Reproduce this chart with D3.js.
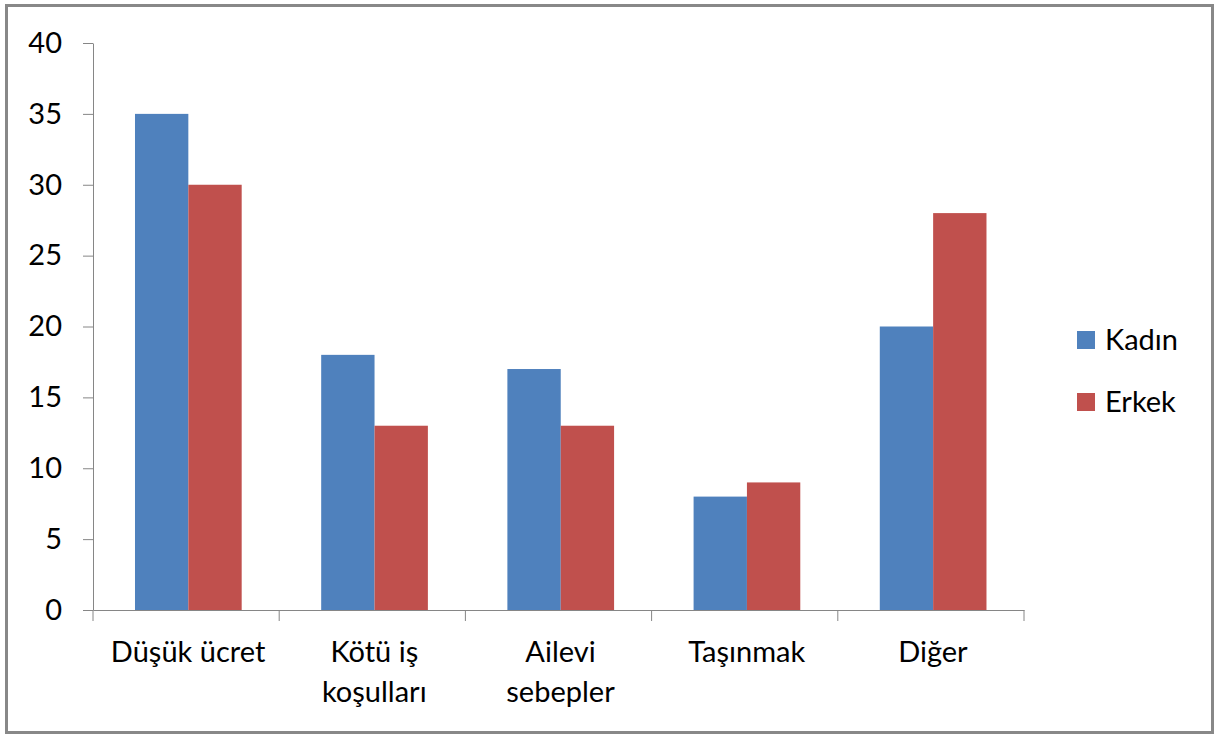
<!DOCTYPE html>
<html><head><meta charset="utf-8">
<script src="https://cdn.jsdelivr.net/npm/d3@7"></script>
<style>body{margin:0;background:#fff}svg{display:block}</style>
</head><body>
<script>
const categories = [["Düşük ücret"], ["Kötü iş","koşulları"], ["Ailevi","sebepler"], ["Taşınmak"], ["Diğer"]];
const seriesNames = ["Kadın", "Erkek"];
const kadin = [35, 18, 17, 8, 20];
const erkek = [30, 13, 13, 9, 28];
const yTicks = [0, 5, 10, 15, 20, 25, 30, 35, 40];
const colors = ["#4F81BD", "#C0504D"];

const W = 1215, H = 735;
const font = "Lato, 'Open Sans', sans-serif";
const fs = 29;
const svg = d3.select("body").append("svg").attr("width", W).attr("height", H);
svg.append("rect").attr("x", 0).attr("y", 0).attr("width", W).attr("height", H).attr("fill", "#fff");
svg.append("rect").attr("x", 6.5).attr("y", 5.5).attr("width", 1206).attr("height", 727).attr("fill", "none")
  .attr("stroke", "#888").attr("stroke-width", 3);

const pLeft = 93, pRight = 1024, pTop = 43, pBottom = 610;
const catKeys = categories.map((c, i) => i);
const x0 = d3.scaleBand().domain(catKeys).range([pLeft, pRight]).padding(0);
const bw = x0.bandwidth();
const x1 = d3.scaleBand().domain(seriesNames).range([bw * 0.2255, bw * 0.7985]).padding(0);
const y = d3.scaleLinear().domain([0, 40]).range([pBottom, pTop]);

const values = [kadin, erkek];
const g = svg.append("g");
catKeys.forEach(i => {
  seriesNames.forEach((s, j) => {
    g.append("rect")
      .attr("x", x0(i) + x1(s))
      .attr("y", y(values[j][i]))
      .attr("width", x1.bandwidth())
      .attr("height", y(0) - y(values[j][i]))
      .attr("fill", colors[j]);
  });
});

// y axis
const yAxis = svg.append("g").attr("transform", `translate(${pLeft},0)`)
  .call(d3.axisLeft(y).tickValues(yTicks).tickSize(10).tickSizeOuter(0).tickPadding(21));
yAxis.selectAll("path,line").attr("stroke", "#868686");
yAxis.selectAll("text").attr("font-family", font).attr("font-size", fs).attr("fill", "#000");

// x axis
const xAxis = svg.append("g").attr("transform", `translate(0,${pBottom})`)
  .call(d3.axisBottom(x0).tickSize(0).tickSizeOuter(0).tickFormat(""));
xAxis.selectAll("path").attr("stroke", "#868686");
const edges = catKeys.map(i => x0(i)).concat([x0(catKeys[catKeys.length - 1]) + bw]);
svg.append("g").selectAll("line").data(edges).join("line")
  .attr("x1", d => d).attr("x2", d => d).attr("y1", pBottom).attr("y2", pBottom + 11)
  .attr("stroke", "#868686");

catKeys.forEach(i => {
  const t = svg.append("text").attr("font-family", font).attr("font-size", fs)
    .attr("text-anchor", "middle").attr("fill", "#000");
  categories[i].forEach((line, k) => {
    t.append("tspan").attr("x", x0(i) + bw / 2 + 2).attr("y", 662 + k * 40).text(line);
  });
});

// legend
seriesNames.forEach((s, j) => {
  const ly = 331 + j * 62;
  svg.append("rect").attr("x", 1077).attr("y", ly).attr("width", 18).attr("height", 18).attr("fill", colors[j]);
  svg.append("text").attr("x", 1105).attr("y", ly + 19).attr("font-family", font).attr("font-size", fs)
    .attr("fill", "#000").text(s);
});
</script>
</body></html>
